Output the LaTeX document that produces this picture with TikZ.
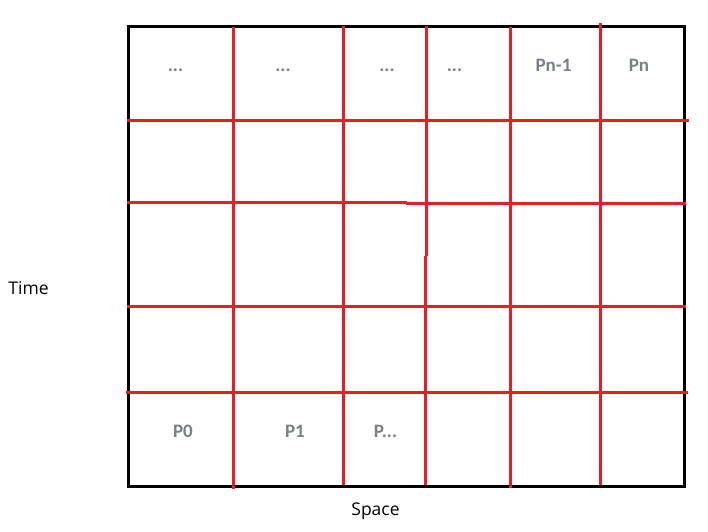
\documentclass[tikz,border=0pt]{standalone}
\usepackage{fontspec}
\setmainfont{Open Sans}
\newfontfamily\calib{Carlito}
\definecolor{gridred}{RGB}{237,28,36}
\definecolor{lblgray}{RGB}{122,128,136}
\begin{document}
\begin{tikzpicture}[x=1pt,y=-1pt,
  redline/.style={draw=gridred,line width=3pt},
  frame/.style={draw=black,line width=3pt},
  cell/.style={anchor=base,inner sep=0pt,text=lblgray,font=\calib\bfseries\fontsize{19}{22}\selectfont},
  axis/.style={anchor=base,inner sep=0pt,text=black,font=\fontsize{17.5}{21}\selectfont}]
\useasboundingbox (0,0) rectangle (708,531);
\draw[frame] (128.3,26.5) rectangle (684,486.7);
% vertical red lines
\draw[redline] (233.5,27) -- (233.5,489);
\draw[redline] (343,26) -- (343,485);
\draw[redline] (426,26) -- (426,255.5);
\draw[redline] (425,255.5) -- (425,485);
\draw[redline] (510.5,27) -- (510.5,488);
\draw[redline] (600.5,22.7) -- (600.5,485);
% horizontal red lines
\draw[redline] (127,120.5) -- (689,120.5);
\draw[redline] (127,202.3) -- (406.5,202.3);
\draw[redline] (406,203.3) -- (686,203.3);
\draw[redline] (127,306) -- (686,306);
\draw[redline] (126,392.5) -- (688,392.5);
% top labels
\node[cell] (t1) at (175.5,71) {...};
\node[cell] (t2) at (283,71) {...};
\node[cell] (t3) at (387,71) {...};
\node[cell] (t4) at (454.5,71) {...};
\node[cell] (t5) at (553.5,71) {Pn-1};
\node[cell] (t6) at (639,71) {Pn};
% bottom labels
\node[cell] (b1) at (183,437.5) {P0};
\node[cell] (b2) at (295,437.5) {P1};
\node[cell] (b3) at (385.5,437.5) {P...};
% axis labels
\node[axis,anchor=base west] (time) at (8.3,294) {Time};
\node[axis] (space) at (375.5,515) {Space};
\end{tikzpicture}
\end{document}
